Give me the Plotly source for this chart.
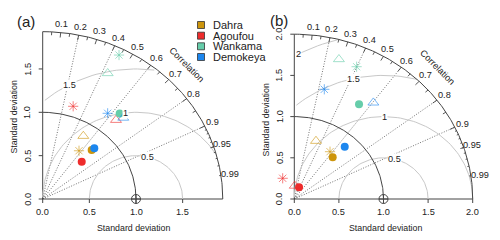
import numpy as np
import plotly.graph_objects as go

# ---------------- data (normalised SD and correlation) ----------------
SITES = ["Dahra", "Agoufou", "Wankama", "Demokeya"]
SITE_COLORS = ["#CD950C", "#EE2C2C", "#66CDAA", "#1C86EE"]

# panel (a)
A_SD_CIRCLE = [0.771, 0.600, 1.285, 0.805]
A_R_CIRCLE = [0.681, 0.697, 0.642, 0.687]
A_SD_TRIANGLE = [0.847, 1.203, 1.609, 1.274]
A_R_TRIANGLE = [0.514, 0.653, 0.433, 0.678]
A_SD_STAR = [0.679, 1.118, 1.851, 1.209]
A_R_STAR = [0.573, 0.292, 0.442, 0.576]

# panel (b)
B_SD_CIRCLE = [0.664, 0.152, 1.359, 0.850]
B_R_CIRCLE = [0.648, 0.350, 0.534, 0.665]
B_SD_TRIANGLE = [0.745, 0.160, 1.768, 1.467]
B_R_TRIANGLE = [0.326, 0.030, 0.283, 0.604]
B_SD_STAR = [0.700, 0.283, 1.751, 1.373]
B_R_STAR = [0.572, -0.460, 0.399, 0.245]

MAXSD_A = 1.93
MAXSD_B = 2.0
REF_SD = 1.0
AXIS_TICKS_A = [0.0, 0.5, 1.0, 1.5]
AXIS_TICKS_B = [0.0, 0.5, 1.0, 1.5, 2.0]
RMS_ARCS_A = [0.5, 1.0, 1.5]
RMS_ARCS_B = [0.5, 1.0, 1.5, 2.0]
CORR_RAYS = [0.2, 0.4, 0.6, 0.8, 0.9]
CORR_LABELS = [0.1, 0.2, 0.3, 0.4, 0.5, 0.6, 0.7, 0.8, 0.9, 0.95, 0.99]
PANEL_LABELS = ["(a)", "(b)"]
AXIS_TITLE = "Standard deviation"

FONT = "Liberation Sans, Arial, sans-serif"
TXT = "#222222"
DARK = "#454545"
GRAY = "#c8c8c8"


def rgba(h, a):
    h = h.lstrip("#")
    return "rgba(%d,%d,%d,%.2f)" % (int(h[0:2], 16), int(h[2:4], 16), int(h[4:6], 16), a)


fig = go.Figure()
annotations = []


def add_line(xs, ys, xa, ya, color, width=1.0, dash="solid"):
    fig.add_trace(go.Scatter(x=xs, y=ys, xaxis=xa, yaxis=ya, mode="lines",
                             line=dict(color=color, width=width, dash=dash),
                             hoverinfo="skip", showlegend=False))


def text(x, y, s, xref, yref, size=9, angle=0, bg=None):
    d = dict(x=x, y=y, xref=xref, yref=yref, text=s, showarrow=False,
             font=dict(family=FONT, size=size, color=TXT), textangle=angle,
             xanchor="center", yanchor="middle")
    if bg:
        d["bgcolor"] = bg
        d["borderpad"] = 0
    annotations.append(d)


def panel(xa, ya, maxsd, ticks, arcs, pxx, pxy, sd_c, r_c, sd_t, r_t, sd_s, r_s):
    # correlation rays
    xs, ys = [], []
    for c in CORR_RAYS:
        xs += [0, maxsd * c, None]
        ys += [0, maxsd * np.sqrt(1 - c * c), None]
    add_line(xs, ys, xa, ya, "#505050", 0.8, "1px,1.6px")
    # axes
    add_line([0, 0, None, 0, maxsd], [0, maxsd, None, 0, 0], xa, ya, DARK, 1.0)
    tlx, tly = 4.0 / pxx, 4.0 / pxy
    xs, ys = [], []
    for t in ticks:
        xs += [t, t, None, 0, -tlx, None]
        ys += [0, -tly, None, t, t, None]
    add_line(xs, ys, xa, ya, DARK, 1.0)
    for t in ticks:
        text(t, -13.0 / pxy, "%.1f" % t, xa, ya, 9.2)
        text(-15.0 / pxx, t, "%.1f" % t, xa, ya, 9.2, angle=-90)
    # RMS arcs (centred on reference point)
    theta = np.arange(0, np.pi, 0.03)
    lp = np.linspace(45, 70, len(arcs))
    for gi, g in enumerate(arcs):
        xc = np.cos(theta) * g + REF_SD
        yc = np.sin(theta) * g
        neg = np.where(xc < 0)[0]
        end = neg.min() if len(neg) else len(theta)
        out = np.where(xc ** 2 + yc ** 2 > maxsd ** 2)[0]
        start = out.max() + 1 if len(out) else 0
        add_line(list(xc[start:end]), list(yc[start:end]), xa, ya, GRAY, 1.0)
        k = int(np.floor(lp[gi])) - 1
        if xc[k] > 0:
            text(xc[k], yc[k], "%g" % g, xa, ya, 9.2, bg="white")
    # outer arc
    th = np.linspace(0, np.pi / 2, 160)
    add_line(list(np.cos(th) * maxsd), list(np.sin(th) * maxsd), xa, ya, DARK, 1.0)
    # ticks on outer arc
    xs, ys = [], []
    for vals, f in ((np.arange(0.1, 0.91, 0.1), 0.97), (np.arange(0.05, 0.96, 0.1), 0.98),
                    (np.arange(0.91, 0.995, 0.01), 0.99)):
        for c in vals:
            s = np.sqrt(1 - c * c)
            xs += [c * maxsd, c * f * maxsd, None]
            ys += [s * maxsd, s * f * maxsd, None]
    add_line(xs, ys, xa, ya, DARK, 0.9)
    # reference SD arc
    add_line(list(np.cos(th) * REF_SD), list(np.sin(th) * REF_SD), xa, ya, DARK, 1.0)
    fig.add_trace(go.Scatter(x=[REF_SD], y=[0], xaxis=xa, yaxis=ya, mode="markers",
                             marker=dict(symbol="circle-cross-open", size=9, color=DARK,
                                         line=dict(color=DARK, width=1)),
                             hoverinfo="skip", showlegend=False))
    for c in CORR_LABELS:
        text(np.cos(np.arccos(c)) * 1.05 * maxsd, np.sin(np.arccos(c)) * 1.05 * maxsd,
             "%g" % c, xa, ya, 9.2)
    text(0.8 * maxsd, 0.8 * maxsd, "Correlation", xa, ya, 9.2, angle=45)
    # data points
    for i, col in enumerate(SITE_COLORS):
        for sd, r, sym, size, fill in ((sd_c, r_c, "circle", 8, True),
                                        (sd_t, r_t, "triangle-up-open", 9.5, False),
                                        (sd_s, r_s, "asterisk-open", 8.5, False)):
            x = sd[i] * r[i]
            y = sd[i] * np.sqrt(1 - r[i] ** 2)
            c2 = col if fill else rgba(col, 0.6)
            fig.add_trace(go.Scatter(x=[x], y=[y], xaxis=xa, yaxis=ya, mode="markers",
                                     marker=dict(symbol=sym, size=size, color=c2,
                                                 line=dict(color=c2, width=1 if not fill else 0)),
                                     name=SITES[i], hoverinfo="skip", showlegend=False))


# panel geometry (pixels per unit)
AX_PX, AY_PX = 93.3, 86.7
BX_PX, BY_PX = 89.2, 82.4
panel("x", "y", MAXSD_A, AXIS_TICKS_A, RMS_ARCS_A, AX_PX, AY_PX,
      A_SD_CIRCLE, A_R_CIRCLE, A_SD_TRIANGLE, A_R_TRIANGLE, A_SD_STAR, A_R_STAR)
panel("x2", "y2", MAXSD_B, AXIS_TICKS_B, RMS_ARCS_B, BX_PX, BY_PX,
      B_SD_CIRCLE, B_R_CIRCLE, B_SD_TRIANGLE, B_R_TRIANGLE, B_SD_STAR, B_R_STAR)

# legend (pixel overlay)
LEG_Y = [25.0, 35.7, 46.3, 57.0]
fig.add_trace(go.Scatter(x=[201] * 4, y=LEG_Y, xaxis="x3", yaxis="y3", mode="markers",
                         marker=dict(symbol="square", size=7, color=SITE_COLORS,
                                     line=dict(color="#333333", width=0.8)),
                         hoverinfo="skip", showlegend=False))
for s, yy in zip(SITES, LEG_Y):
    annotations.append(dict(x=211, y=yy, xref="x3", yref="y3", text=s, showarrow=False,
                            xanchor="left", yanchor="middle",
                            font=dict(family=FONT, size=11, color=TXT)))

text(26, 21, PANEL_LABELS[0], "x3", "y3", 15)
text(279, 20, PANEL_LABELS[1], "x3", "y3", 15)
text(133, 228, AXIS_TITLE, "x3", "y3", 8.8)
text(385, 228, AXIS_TITLE, "x3", "y3", 8.8)
text(13.5, 117, AXIS_TITLE, "x3", "y3", 8.8, angle=-90)
text(265.5, 120, AXIS_TITLE, "x3", "y3", 8.8, angle=-90)

W, H = 500, 240
ax_off = dict(visible=False, showgrid=False, zeroline=False)
fig.update_layout(
    width=W, height=H, margin=dict(l=0, r=0, t=0, b=0, pad=0),
    paper_bgcolor="white", plot_bgcolor="rgba(0,0,0,0)", showlegend=False,
    xaxis=dict(domain=[0, 0.49], range=[-42.7 / AX_PX, (245 - 42.7) / AX_PX], anchor="y", **ax_off),
    yaxis=dict(domain=[0, 1], range=[(199 - 240) / AY_PX, 199 / AY_PX], anchor="x", **ax_off),
    xaxis2=dict(domain=[0.5, 1], range=[(250 - 294.3) / BX_PX, (500 - 294.3) / BX_PX], anchor="y2", **ax_off),
    yaxis2=dict(domain=[0, 1], range=[(199 - 240) / BY_PX, 199 / BY_PX], anchor="x2", **ax_off),
    xaxis3=dict(domain=[0, 1], range=[0, W], anchor="y3", **ax_off),
    yaxis3=dict(domain=[0, 1], range=[H, 0], anchor="x3", **ax_off),
    annotations=annotations,
)

fig.write_html("out.html", config={"displayModeBar": False, "staticPlot": True},
               post_script="document.body.style.margin='0';document.body.style.padding='0';document.body.style.overflow='hidden';")
